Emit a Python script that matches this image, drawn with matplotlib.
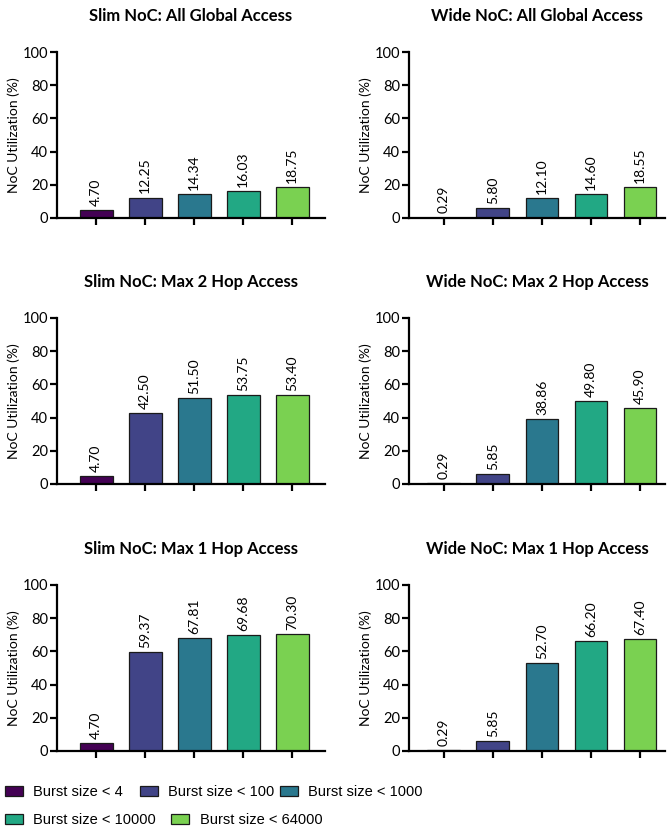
import numpy as np
import matplotlib
matplotlib.use("Agg")
import matplotlib.pyplot as plt
from matplotlib.patches import Patch

plt.rcParams['font.family'] = ['Lato', 'DejaVu Sans']

categories = ["Burst size < 4", "Burst size < 100", "Burst size < 1000",
              "Burst size < 10000", "Burst size < 64000"]
colors = ['#440154', '#414487', '#2a788e', '#22a884', '#7ad151']

slim_global = [4.70, 12.25, 14.34, 16.03, 18.75]
wide_global = [0.29, 5.80, 12.10, 14.60, 18.55]
slim_2hop = [4.70, 42.50, 51.50, 53.75, 53.40]
wide_2hop = [0.29, 5.85, 38.86, 49.80, 45.90]
slim_1hop = [4.70, 59.37, 67.81, 69.68, 70.30]
wide_1hop = [0.29, 5.85, 52.70, 66.20, 67.40]

titles = ["Slim NoC: All Global Access", "Wide NoC: All Global Access",
          "Slim NoC: Max 2 Hop Access", "Wide NoC: Max 2 Hop Access",
          "Slim NoC: Max 1 Hop Access", "Wide NoC: Max 1 Hop Access"]
series = [slim_global, wide_global, slim_2hop, wide_2hop, slim_1hop, wide_1hop]

fig = plt.figure(figsize=(6.69, 8.32), dpi=100)

bottoms = [0.7380, 0.4183, 0.0974]
h = 0.1995
cols = [(0.0852, 0.4006, (-0.80, 4.67)), (0.6114, 0.3827, (-0.71, 4.51))]

x = np.arange(len(categories))
for i, (title, vals) in enumerate(zip(titles, series)):
    r, c = divmod(i, 2)
    x0, w, xl = cols[c]
    ax = fig.add_axes([x0, bottoms[r], w, h])
    ax.bar(x, vals, width=0.67, color=colors, edgecolor='#1a1a1a', linewidth=0.9)
    for xi, v in zip(x, vals):
        ax.annotate(f"{v:.2f}", (xi, v), xytext=(0, 3), textcoords='offset points',
                    rotation=90, ha='center', va='bottom', fontsize=10)
    ax.set_xlim(*xl)
    ax.set_ylim(0, 100)
    ax.set_yticks([0, 20, 40, 60, 80, 100])
    ax.set_xticks(x)
    ax.set_xticklabels([])
    for s in ['top', 'right']:
        ax.spines[s].set_visible(False)
    for s in ['left', 'bottom']:
        ax.spines[s].set_linewidth(1.6)
    ax.tick_params(axis='both', width=1.6, length=5, labelsize=10.5, pad=1.5)
    ax.set_ylabel("NoC Utilization (%)", fontsize=10, labelpad=2)
    ax.set_title(title, fontsize=12, fontweight='bold', pad=22)

# legend, laid out in two rows like the original
rows = [(0.048, [(0, 0.007), (1, 0.209), (2, 0.418)]),
        (0.0145, [(3, 0.007), (4, 0.256)])]
for y, entries in rows:
    for k, xpos in entries:
        fig.legend(handles=[Patch(facecolor=colors[k], edgecolor='#1a1a1a', linewidth=0.9)],
                   labels=[categories[k]], loc='center left', bbox_to_anchor=(xpos, y),
                   frameon=False, borderpad=0, borderaxespad=0,
                   handlelength=1.25, handleheight=0.7, handletextpad=0.7,
                   prop={'family': 'Liberation Sans', 'size': 10.5})

fig.savefig("out.png", dpi=100)
